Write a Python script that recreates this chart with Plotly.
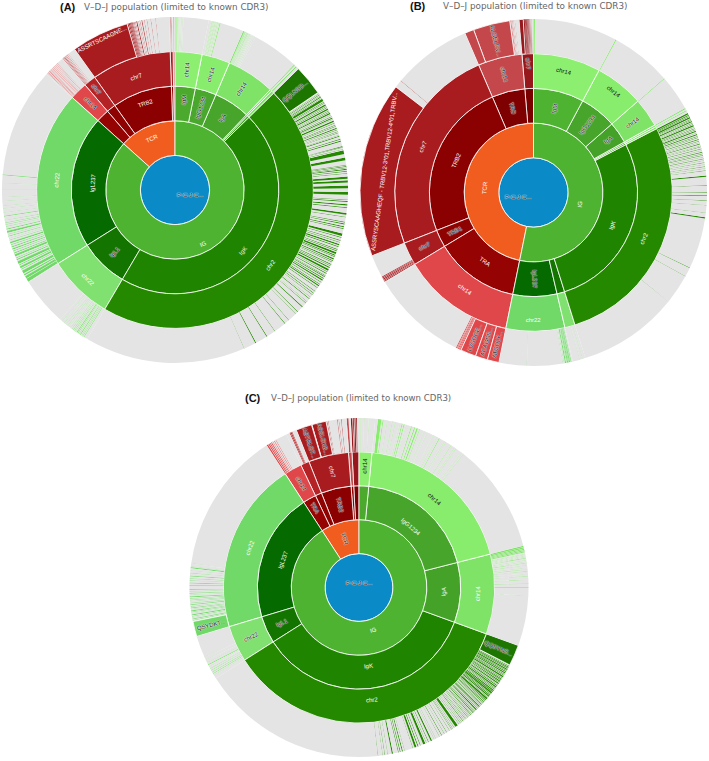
import math

import plotly.graph_objects as go

W = 709
H = 761
GRAY = "#E4E4E4"
ROOT_TEXT = "P-C-J-C..."

# text style per chain: w white, k black, h dark with halo
# label direction per chain: t tangential, r radial, a tangential at the middle of a wide slice

# ---- panel A ----
A_CHAINS = ["IgM", "IgG1234", "IgA", "IgE", "IgD", "IgK", "IgL1", "IgL237", "TRA", "TRB1", "TRB2", "TRD", "TRG"]
A_LOCUS = ["IG", "IG", "IG", "IG", "IG", "IG", "IG", "IG", "TCR", "TCR", "TCR", "TCR", "TCR"]
A_SPAN = [11.3, 11.9, 20.3, 0.8, 1.2, 165, 27.3, 74.2, 7.4, 5.1, 33.5, 1.2, 0.8]
A_CHAIN_TEXT = ["IgM", "IgG1234", "IgA", "", "", "IgK", "IgL1", "IgL237", "", "", "TRB2", "", ""]
A_CHROM_TEXT = ["chr14", "chr14", "chr14", "", "", "chr2", "chr22", "chr22", "chr14", "chr7", "chr7", "", ""]
A_CHAIN_COLOR = ["#4BAA2E", "#48A72C", "#46A52A", "#46A52A", "#46A52A", "#1F8400", "#137500", "#056A00",
                 "#960303", "#8F0202", "#8B0000", "#8B0000", "#8B0000"]
A_CHROM_COLOR = ["#8CEF6F", "#88EC6D", "#7FE368", "#7FE368", "#7FE368", "#258900", "#80E070", "#70D968",
                 "#E0474A", "#B52226", "#A81C20", "#A81C20", "#A81C20"]
A_CHAIN_INK = "hhhwwwhwwwwww"
A_CHROM_INK = "hhhwwwwwhhwww"
A_CHAIN_WAY = "rrrttartttttt"
A_CHROM_WAY = "rrrttattrrttt"
A_CLONES = [[], [], [], [], [], [(10.2, "QQLNSD...", "h", "r")], [], [], [], [], [(19.4, "ASSRTSCAAGNE...", "w", "t")], [], []]
A_STRIPES = [
    [.05, .2, .1, .15, .1, .2, .15, .1, .2, .1, .2, .08, .3, .06, .4, .05, .4, .04],
    [.9, .1, .15, .1, .2, .12, .2, .1, .2, .15, .2, .1, .3, .15, .3, .1, .3, .3],
    [0, .4, .1, .1, .1, .15, .15, .1, .1, .12, .15, .1, .1, .1, .2, .08, .15, .08, .2, .07, .25, .06, .3, .05, .35, .05, .4, .04, .5, .04],
    [0, .3], [0, .4],
    [.35, .15, .25, .2, .3, .15, .2, .3, .25, .15, .2, .8,
     .3, .2, .25, .15, .35, .5, .2, .15, .3, .2, .25, .5,
     .3, .15, .3, .2, .2, .4, .3, .15, .4, .2, .3, .3,
     .2, .15, .4, .5, .3, .2, .5, .2, .3, .15, .5, .3,
     .3, .2, .4, .15, .3, .15, .6, .15, .2, .3, .8, .2,
     .4, .3, 1.6, .2, .15, .1, .5, .15, .3, 1.3, 1.2, .9,
     1.5, .15, .3, .2, .3, .15, .25, .3, .4, .2, .5, .2, 1.0, .7, .5, .8, 1.0, .9,
     1.2, .9, 1.6, .2, .3, .3, .8, .4, .6, .25, 1.6, .6, .7, .2, 1.5, .2, .4, .3, .6, .3, .4, .2,
     1.6, .8, .4, .2, .8, .25, .4, .2, .5, .5, .3, .3, .7, .25, .3, .2, .4, .6, .3, .3, .25, .2,
     .5, .4, .3, .25, .3, .2, .6, .3, .3, .2, .3, .4, .4, .6, .3, .2, .4, .3, .5, .2, .2, .3,
     .4, .3, .3, .4, .5, .2, .6, .25, .3, .4, .5, .2, 1.2, .15, .6, .2, .5, .15, .9, .1, .5, .25,
     1., .1, .5, .15, 1.5, .3, 2., .2, .8, .1, 3., .15, 1.5, .2, 4., .15, 3, .25, 4, .3, 4, .1],
    [1.1, .25, .3, .2, .2, .15, .3, .3, .25, .15, .3, .2, .2, .3, .3, .15, .25, .2, .3, .15, .4, .15, .4, .1, .5, .1, .5, .1, .6, .08, .7, .08, .8, .06, 1., .05],
    [.2, 1.1, .15, .8, .3, .5, .3, 1.0, .4, .25, .3, .7, .3, .3, .3, .9, .4, .4, .3, .2, .5, .7, .3, .3, .5, .2, .4, .4,
     .4, .3, .5, .2, .4, .5, .5, .2, .4, .15, .6, .25, .4, .15, .5, .6, .5, .3, .6, .15, .5, .2, .4, .15, .7, .12,
     1.2, .3, 1.0, .1, 1.2, .12, .8, .1, 1.5, .1, 1.2, .08, 2.5, .1, 2, .08, 2.6, .3],
    [.4, .15, .2, .12, .3, .15, .2, .12, .25, .1, .3, .12, .3, .1, .3, .12, .3, .12, .4, .1, .4, .1, .3, .1],
    [.1, .15, .2, .12, .2, .15, .2, .1, .25, .1, .3, .1, .4, .1],
    [.1, .35, .1, .3, .1, .25, .1, .2, .1, .2, .15, .15, .2, .15, .25, .12, .3, .3, .4, .1, .35, .1, .5, .25, .6, .1, .8, .1, 1.2, .1, 1.5, .08],
    [.3, .1, .2, .1], [.2, .1],
]

# ---- panel B ----
B_CHAINS = ["IgM", "IgG1234", "IgA", "IgE", "IgD", "IgK", "IgL1", "IgL237", "TRA", "TRB1", "TRB2", "TRD", "TRG"]
B_LOCUS = ["IG", "IG", "IG", "IG", "IG", "IG", "IG", "IG", "TCR", "TCR", "TCR", "TCR", "TCR"]
B_SPAN = [28.2, 20.6, 12.1, 0.8, 0.9, 100, 4.3, 24.6, 47.3, 9.8, 88.1, 18.5, 4.8]
B_CHAIN_TEXT = ["IgM", "IgG1234", "IgA", "", "", "IgK", "", "IgL237", "TRA", "TRB1", "TRB2", "TRD", ""]
B_CHROM_TEXT = ["chr14", "chr14", "chr14", "", "", "chr2", "", "chr22", "chr14", "chr7", "chr7", "chr14", "chr7"]
B_CHAIN_COLOR = ["#4FB332", "#46A52A", "#44A228", "#44A228", "#44A228", "#1F8400", "#137500", "#056A00",
                 "#960303", "#8F0202", "#8B0000", "#7F0000", "#7A0000"]
B_CHROM_COLOR = ["#8CEF6F", "#88EC6D", "#7FE368", "#7FE368", "#7FE368", "#258900", "#80E070", "#70D968",
                 "#E0474A", "#A81C20", "#A81C20", "#C4484B", "#96181C"]
B_CHAIN_INK = "hhhwwwwhwhwhw"
B_CHROM_INK = "kkhwwwwwwhwhh"
B_CHAIN_WAY = "rrrtttrrtrtrt"
B_CHROM_WAY = "ttrttttttrtrr"
B_CLONES = [[], [], [], [], [], [], [], [],
            [(3.9, "ATGDLY...", "h", "r"), (4.1, "ACAGSS...", "h", "r"), (5.2, "LVGDGE...", "h", "r")], [],
            [(58.9, "ASSRYSCAAGHEQF - TRBV12-3*01,TRBV12-4*01,TRBV...", "w", "t")],
            [(3.1, "", "w", "t"), (12.3, "ALGELRV...", "h", "r")], [(1.4, "", "w", "t")]]
B_STRIPES = [
    [0, .5], [0, .35], [0, .25], [0, .3], [0, .3],
    [.1, .5, .15, .3, .2, .2, .15, .5, .2, .2, .2, .15, .2, .4, .25, .15, .3, .15, .2, .45, .25, .15, .3, .2, .3, .12, .25, .4,
     .3, .15, .35, .3, .4, .15, .3, .15, .4, .25, .4, .12, .35, .15, .3, .25, .4, .12, .3, .12, .5, .2, .4, .12, .45, .2,
     .4, .1, .4, .15, .4, .12, .5, .15, .4, .1, .6, .12, .5, .1, .6, .15, .5, .1, .6, .12, 1.6, .4, 2.8, .1, 2.2, .12, .9, .3, 1.4, .12, 1.4, .1, 2.4, .12, 1.5, .4,
     17, .15, 3, .1, 10, .05],
    [.8, .1, .9, .06],
    [.4, .2, .08, .15, .08, .3, .08, .2, .08, .3, .08, .15, .15, .35, .2, .1, .3, .08, 12, .05],
    [.1, .3, .08, .25, .08, .3, .08, .2, .12, .3],
    [.25, .3, .1, .3, .1, .3, .1, .3, .1, .3],
    [2.5, .1],
    [.15, .2, .1, .1, .2, .1, .3, .08, .4, .06],
    [0, .5, .05, .25, .05, .25, .05, .2, .08, .2, .1, .2, .15, .15, .2, .12, .2, .1],
]

# ---- panel C ----
C_CHAINS = ["IgM", "IgG1234", "IgA", "IgK", "IgL1", "IgL237", "TRA", "TRB1", "TRB2", "TRD", "TRG"]
C_LOCUS = ["IG", "IG", "IG", "IG", "IG", "IG", "TCR", "TCR", "TCR", "TCR", "TCR"]
C_SPAN = [5.5, 70.2, 34.3, 127.6, 15.6, 73.8, 7.6, 3.7, 17.2, 1.5, 3]
C_CHAIN_TEXT = ["", "IgG1234", "IgA", "IgK", "IgL1", "IgL237", "TRA", "", "TRB2", "", ""]
C_CHROM_TEXT = ["chr14", "chr14", "chr14", "chr2", "chr22", "chr22", "chr14", "", "chr7", "", ""]
C_CHAIN_COLOR = ["#4BAA2E", "#46A52A", "#44A228", "#1F8400", "#137500", "#056A00", "#960303", "#8F0202", "#8B0000", "#8B0000", "#7A0000"]
C_CHROM_COLOR = ["#8CEF6F", "#88EC6D", "#7FE368", "#258900", "#80E070", "#70D968", "#E0474A", "#B52226", "#A81C20", "#C4484B", "#96181C"]
C_CHAIN_INK = "wwwwhwhwhww"
C_CHROM_INK = "kkwwhwhwwww"
C_CHAIN_WAY = "rttartrrrrr"
C_CHROM_WAY = "rttartrrrrr"
C_CLONES = [[], [], [], [(7.2, "QQSYNS...", "h", "r")], [], [(5.2, "QSYDKT...", "h", "r")], [], [],
            [(5.4, "ASTRLGT...", "h", "r"), (.15, "", "w", "t"), (4.9, "ASSLGKB...", "h", "r")], [], []]
C_STRIPES = [
    [.4, .1, 1.2, .08, 1.5, .08],
    [.9, 1.2, .4, .3, 1.2, .12, 1.6, .15, .9, .12, 1.5, .1, .6, .3, .4, .3, .5, .1, 1.7, .3, .8, .35, .5, .5, .5, .2, 1.5, .12, .9, .1, 2.2, .1, 1.2, .1, .9, .25, 1.8, .1, .4, .1, 2.0, .15, 1.2, .1, .5, .12, 2.2, .08, .8, .12],
    [0, .5, .08, .4, .08, .4, .08, .35, .1, .3, .4, .1, .2, .1, .3, .12, .25, .1, .3, .2, .5, .1, .4, .1, .4, .15, .6, .1, .7, .1, .5, .15, .5, .1, .8, .08, .7, .12, 1.1, .1, 1.2, .15, 1.2, .3, 2.5, .08],
    [.25, .2, .2, .3, .15, .2, .2, .4, .15, .2, .2, .3, .15, .4, .2, .2, .15, .25, .2, .5, .15, .2, .2, .3, .1, .25, .2, .35, .15, .2,
     .2, .4, .2, .15, .2, .3, .15, .5, .15, .2, .2, .25, .2, .4, .15, .35, .1, .5, .15, .2, .2, .3, .15, .4, .2, .2, .15, .6, .15, .25,
     .2, .15, .25, .3, .15, .2, .3, .15, .2, .25, .3, .15, .25, .35, .2, .15, .3, .2, .25, .4, .3, .12, .3, .15, .25, .3, .35, .12, .3, .2,
     .3, .1, .35, .12, .3, .2, .4, .1, .3, .15, .4, .1, .35, .25, .4, .1, .4, .15, .5, .1, .5, 1.0, .4, .1, .5, .1, .3, .15, .7, .12,
     1.0, .15, .8, .1, .9, .2, .7, .1, 1.3, .1, .5, .1, .8, .5, .7, .2, .6, .1, .4, .8, .9, .2, .6, .3, .4, .7, .5, .12, 2.8, .1, .6, .3, .5, .25, .4, .2, 1.8, .4, 1.3, .1, .9, .15, .6, .1, 1.5, .1],
    [1.1, .1, .5, .25, .4, .15, .5, .2, .5, .12, .6, .1, .6, .3, .5, .1, 1.0, .08, 1.0, .06],
    [.25, .2, .25, .3, .2, .15, .3, .2, .25, .35, .2, .15, .3, .2, .2, .3, .3, .15, .25, .2, .3, .15, .4, .3, .3, .2, .4, .15, .3, .2, .3, .15,
     .4, .3, .4, .15, .4, .2, .5, .15, .4, .25, .6, .12, .5, .2, .5, .3, .6, .15, .5, .15, .7, .25, .8, .12, .7, .1, .8, .4, .12, .1, 1.0, .1],
    [0, .5, .15, .4, .15, .3, .2, .3, .3, .15, .4, .2, .4, .15],
    [1.2, .25, .1, .3, .1, .2],
    [.2, .15, .3, .1, 3.0, .15, .4, .1, .7, .15],
    [.3, .6],
    [.2, .5, .2, .3, .2, .4, .2, .3],
]

INK = {"w": "#FFFFFF", "k": "#111111", "h": "#111111"}
WHITE_GLOW = "0 0 1px #FFFFFF, 0 0 1px #FFFFFF, 0 0 1px #FFFFFF"
HALO = {"w": "none", "k": "none", "h": WHITE_GLOW}
LABEL_SIZE = 6


def panel(chains, locus, span, chain_text, chrom_text, chain_color, chrom_color, chain_ink, chrom_ink,
          chain_way, chrom_way, tcr_way, clones, stripes, x0, x1, y0, y1):
    rows = [("root", "", 0, "#0A8BC8", "", 0.8, "h", "t")]
    rows.append(("IG", "root", 0, "#4FB332", "IG", 0.8, "w", "a"))
    rows.append(("TCR", "root", 0, "#F15D1E", "TCR", 0.8, "h" if tcr_way == "r" else "w", tcr_way))

    # middle of each slice, for the wide labels that plotly would push to the bottom
    notes = []
    cx = (x0 + x1) / 2
    cy = (y0 + y1) / 2
    ring = (x1 - x0) / 10

    def note(text, mid, level):
        a = math.radians(mid)
        r = ring * (level + 0.5)
        tilt = mid if mid < 90 or mid > 270 else mid - 180
        notes.append(dict(text=text, x=(cx + r * math.sin(a)) / W, y=1 - (cy - r * math.cos(a)) / H,
                          xref="paper", yref="paper", showarrow=False, textangle=tilt,
                          font=dict(family="Liberation Sans", size=LABEL_SIZE, color="#FFFFFF")))

    note("IG", sum(s for s, l in zip(span, locus) if l == "IG") / 2, 1)
    notes.append(dict(text=ROOT_TEXT, x=cx / W, y=1 - cy / H, xref="paper", yref="paper", showarrow=False,
                      font=dict(family="Liberation Sans", size=LABEL_SIZE, color="#111111", shadow=WHITE_GLOW)))

    start = 0
    for n, chain in enumerate(chains):
        chrom = chain + "_chr"
        mid = start + span[n] / 2
        start += span[n]
        if chain_way[n] == "a":
            note(chain_text[n], mid, 2)
        if chrom_way[n] == "a":
            note(chrom_text[n], mid, 3)
        rows.append((chain, locus[n], 0, chain_color[n], chain_text[n], 0.8, chain_ink[n], chain_way[n]))
        rows.append((chrom, chain, 0, chrom_color[n], chrom_text[n], 0.8, chrom_ink[n], chrom_way[n]))
        used = 0
        for k, (size, text, ink, way) in enumerate(clones[n]):
            color = "#1C7600" if chain == "IgK" else chrom_color[n]
            rows.append((f"{chain}_clone{k}", chrom, size, color, text, 0.8, ink, way))
            used += size
        for k, size in enumerate(stripes[n]):
            if size > 0:
                rows.append((f"{chain}_s{k}", chrom, size, GRAY if k % 2 == 0 else chrom_color[n], "", 0, "w", "t"))
            used += size
        assert used <= span[n] + 1e-9, (chain, used, span[n])
        # whatever is left of the chromosome is the gray "other clonotypes" part
        if span[n] - used > 1e-9:
            rows.append((f"{chain}_rest", chrom, span[n] - used, GRAY, "", 0, "w", "t"))

    # plotly lays siblings out counterclockwise, the chart runs clockwise from 12 o'clock
    rows.reverse()
    ids = [r[0] for r in rows]
    parents = [r[1] for r in rows]
    values = [r[2] for r in rows]
    colors = [r[3] for r in rows]
    widths = [r[5] for r in rows]
    domain = dict(x=[x0 / W, x1 / W], y=[1 - y1 / H, 1 - y0 / H])

    # sunburst has one text orientation per trace, so radial labels go on a clear copy on top
    traces = []
    for way, orient in [("t", "tangential"), ("r", "radial")]:
        font = dict(family="Liberation Sans", size=LABEL_SIZE,
                    color=[INK[r[6]] for r in rows],
                    shadow=[HALO[r[6]] for r in rows])
        traces.append(go.Sunburst(
            ids=ids, labels=ids, parents=parents, values=values,
            branchvalues="remainder", sort=False, rotation=90,
            text=[r[4] if r[7] == way else "" for r in rows], textinfo="text", hoverinfo="skip",
            insidetextorientation=orient,
            insidetextfont=font, outsidetextfont=font,
            marker=dict(colors=colors if way == "t" else ["rgba(0,0,0,0)"] * len(rows),
                        line=dict(color="#FFFFFF", width=widths if way == "t" else 0)),
            leaf=dict(opacity=1),
            domain=domain,
        ))
    return traces, notes


fig = go.Figure()
all_notes = []
for args in [
    (A_CHAINS, A_LOCUS, A_SPAN, A_CHAIN_TEXT, A_CHROM_TEXT, A_CHAIN_COLOR, A_CHROM_COLOR, A_CHAIN_INK, A_CHROM_INK,
     A_CHAIN_WAY, A_CHROM_WAY, "t", A_CLONES, A_STRIPES, 2, 348, 17, 363),
    (B_CHAINS, B_LOCUS, B_SPAN, B_CHAIN_TEXT, B_CHROM_TEXT, B_CHAIN_COLOR, B_CHROM_COLOR, B_CHAIN_INK, B_CHROM_INK,
     B_CHAIN_WAY, B_CHROM_WAY, "t", B_CLONES, B_STRIPES, 360, 707, 19, 366),
    (C_CHAINS, C_LOCUS, C_SPAN, C_CHAIN_TEXT, C_CHROM_TEXT, C_CHAIN_COLOR, C_CHROM_COLOR, C_CHAIN_INK, C_CHROM_INK,
     C_CHAIN_WAY, C_CHROM_WAY, "r", C_CLONES, C_STRIPES, 189, 529, 418, 757),
]:
    traces, notes = panel(*args)
    fig.add_traces(traces)
    all_notes += notes

TITLE = "V\u2013D\u2013J population (limited to known CDR3)"
for tag, tx, px, py, size in [("(A)", 58, 82, 7, 8.8), ("(B)", 408, 441, 6, 8.8), ("(C)", 243, 269, 398, 8.6)]:
    all_notes.append(dict(text=tag, x=tx / W, y=1 - py / H, xref="paper", yref="paper", xanchor="left", yanchor="middle",
                          showarrow=False, font=dict(family="Liberation Sans", size=11, color="#111111", weight="bold")))
    all_notes.append(dict(text=TITLE, x=px / W, y=1 - py / H, xref="paper", yref="paper", xanchor="left", yanchor="middle",
                          showarrow=False, font=dict(family="DejaVu Sans", size=size, color="#666666")))

fig.update_layout(width=W, height=H, margin=dict(l=0, r=0, t=0, b=0), paper_bgcolor="#FFFFFF", showlegend=False,
                  annotations=all_notes)

fig.write_html("out.html", config={"displayModeBar": False}, post_script="document.body.style.margin='0';")
